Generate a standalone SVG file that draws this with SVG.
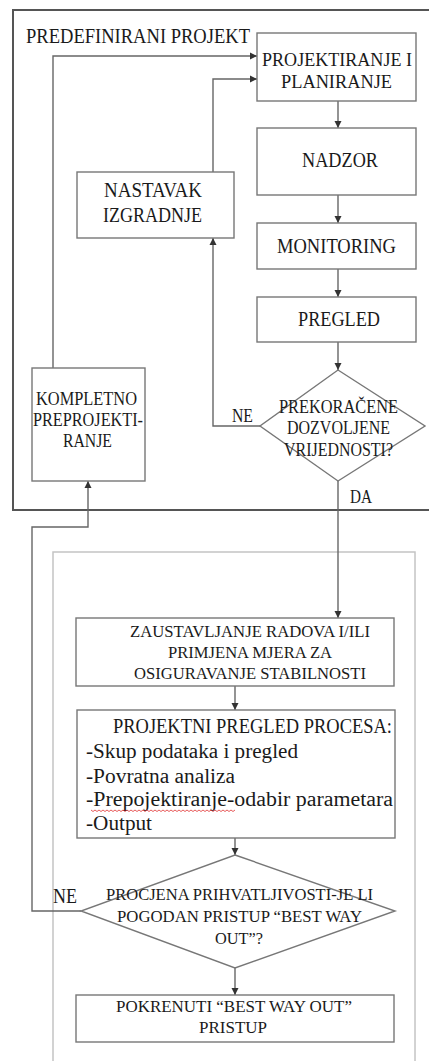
<svg xmlns="http://www.w3.org/2000/svg" width="429" height="1061" viewBox="0 0 429 1061">
<style>
text{font-family:"Liberation Serif","DejaVu Serif",serif;fill:#1a1a1a}
.box{fill:#fff;stroke:#777;stroke-width:1.4}
.a{font-size:21px}
.a2{font-size:19px}
.b{font-size:18px}
.d{font-size:17px}
.e{font-size:20px}
.con{fill:none;stroke:#666;stroke-width:1.4}
</style>
<defs>
<marker id="ar" markerUnits="userSpaceOnUse" markerWidth="8" markerHeight="8" refX="7" refY="4" orient="auto">
<path d="M0,0.5 L7,4 L0,7.5 z" fill="#333"/>
</marker>
</defs>
<rect width="429" height="1061" fill="#fff"/>
<rect id="frame1" x="13" y="10" width="440" height="500" fill="none" stroke="#555" stroke-width="2"/>
<rect id="frame2" x="53" y="552" width="362" height="530" fill="none" stroke="#c4c4c4" stroke-width="1.5"/>
<text id="label-predef" x="26" y="43" class="e" textLength="224" lengthAdjust="spacingAndGlyphs">PREDEFINIRANI PROJEKT</text>

<g id="connectors">
<path class="con" d="M53,368 V56 H257" marker-end="url(#ar)"/>
<path class="con" d="M213,172 V79 H257" marker-end="url(#ar)"/>
<path class="con" d="M338,101 V128" marker-end="url(#ar)"/>
<path class="con" d="M338,195 V223" marker-end="url(#ar)"/>
<path class="con" d="M338,269 V297" marker-end="url(#ar)"/>
<path class="con" d="M338,342 V370" marker-end="url(#ar)"/>
<path class="con" d="M260,426 H213 V238" marker-end="url(#ar)"/>
<path class="con" d="M338,481 V618" marker-end="url(#ar)"/>
<path class="con" d="M235,686 V710" marker-end="url(#ar)"/>
<path class="con" d="M235,838 V855" marker-end="url(#ar)"/>
<path class="con" d="M81,911 H32 V527 H88 V481" marker-end="url(#ar)"/>
<path class="con" d="M235,968 V995" marker-end="url(#ar)"/>
<text x="232" y="422" class="b" textLength="21" lengthAdjust="spacingAndGlyphs">NE</text>
<text x="350" y="503" class="b" textLength="22" lengthAdjust="spacingAndGlyphs">DA</text>
<text x="53" y="903" class="e" textLength="24" lengthAdjust="spacingAndGlyphs">NE</text>
</g>

<g id="n-projektiranje">
<rect class="box" x="257" y="33" width="159" height="68"/>
<text x="262" y="66" class="a2" textLength="150" lengthAdjust="spacingAndGlyphs">PROJEKTIRANJE I</text>
<text x="281" y="88" class="a2" textLength="111" lengthAdjust="spacingAndGlyphs">PLANIRANJE</text>
</g>
<g id="n-nadzor">
<rect class="box" x="257" y="128" width="159" height="67"/>
<text x="302" y="167" class="a" textLength="76" lengthAdjust="spacingAndGlyphs">NADZOR</text>
</g>
<g id="n-monitoring">
<rect class="box" x="257" y="223" width="159" height="46"/>
<text x="277" y="253" class="a" textLength="119" lengthAdjust="spacingAndGlyphs">MONITORING</text>
</g>
<g id="n-pregled">
<rect class="box" x="257" y="297" width="159" height="45"/>
<text x="298" y="326" class="a" textLength="82" lengthAdjust="spacingAndGlyphs">PREGLED</text>
</g>
<g id="n-nastavak">
<rect class="box" x="77" y="172" width="157" height="66"/>
<text x="104" y="197" class="a" textLength="98" lengthAdjust="spacingAndGlyphs">NASTAVAK</text>
<text x="103" y="222" class="a" textLength="99" lengthAdjust="spacingAndGlyphs">IZGRADNJE</text>
</g>
<g id="n-prekoracene">
<polygon class="box" points="338,370 425,426 338,481 260,426"/>
<text x="279" y="413" class="b" textLength="119" lengthAdjust="spacingAndGlyphs">PREKORAČENE</text>
<text x="287" y="434" class="b" textLength="103" lengthAdjust="spacingAndGlyphs">DOZVOLJENE</text>
<text x="284" y="456" class="b" textLength="109" lengthAdjust="spacingAndGlyphs">VRIJEDNOSTI?</text>
</g>
<g id="n-kompletno">
<rect class="box" x="32" y="368" width="113" height="113"/>
<text x="36" y="405" class="b" textLength="101" lengthAdjust="spacingAndGlyphs">KOMPLETNO</text>
<text x="33" y="426" class="b" textLength="110" lengthAdjust="spacingAndGlyphs">PREPROJEKTI-</text>
<text x="63" y="447" class="b" textLength="49" lengthAdjust="spacingAndGlyphs">RANJE</text>
</g>
<g id="n-zaustavljanje">
<rect class="box" x="76" y="618" width="318" height="68"/>
<text x="130" y="637" class="d" textLength="240" lengthAdjust="spacingAndGlyphs">ZAUSTAVLJANJE RADOVA I/ILI</text>
<text x="168" y="658" class="d" textLength="164" lengthAdjust="spacingAndGlyphs">PRIMJENA MJERA ZA</text>
<text x="134" y="679" class="d" textLength="232" lengthAdjust="spacingAndGlyphs">OSIGURAVANJE STABILNOSTI</text>
</g>
<g id="n-projektni">
<rect class="box" x="77" y="710" width="318" height="128"/>
<text x="113" y="733" class="e" textLength="279" lengthAdjust="spacingAndGlyphs">PROJEKTNI PREGLED PROCESA:</text>
<text x="86" y="758" class="e" textLength="212" lengthAdjust="spacingAndGlyphs">-Skup podataka i pregled</text>
<text x="86" y="783" class="e" textLength="149" lengthAdjust="spacingAndGlyphs">-Povratna analiza</text>
<text x="86" y="806" class="e" textLength="307" lengthAdjust="spacingAndGlyphs">-Prepojektiranje-odabir parametara</text>
<text x="86" y="830" class="e" textLength="66" lengthAdjust="spacingAndGlyphs">-Output</text>
<path d="M91,810 l2,1.5 l2,-1.5 l2,1.5 l2,-1.5 l2,1.5 l2,-1.5 l2,1.5 l2,-1.5 l2,1.5 l2,-1.5 l2,1.5 l2,-1.5 l2,1.5 l2,-1.5 l2,1.5 l2,-1.5 l2,1.5 l2,-1.5 l2,1.5 l2,-1.5 l2,1.5 l2,-1.5 l2,1.5 l2,-1.5 l2,1.5 l2,-1.5 l2,1.5 l2,-1.5 l2,1.5 l2,-1.5 l2,1.5 l2,-1.5 l2,1.5 l2,-1.5 l2,1.5 l2,-1.5 l2,1.5 l2,-1.5 l2,1.5 l2,-1.5 l2,1.5 l2,-1.5 l2,1.5 l2,-1.5 l2,1.5 l2,-1.5 l2,1.5 l2,-1.5 l2,1.5 l2,-1.5 l2,1.5 l2,-1.5 l2,1.5 l2,-1.5 l2,1.5 l2,-1.5 l2,1.5 l2,-1.5 l2,1.5 l2,-1.5 l2,1.5 l2,-1.5 l2,1.5 l2,-1.5 l2,1.5 l2,-1.5 l2,1.5 l2,-1.5 l2,1.5 l2,-1.5 l2,1.5 l2,-1.5" fill="none" stroke="#e03030" stroke-width="0.8"/>
</g>
<g id="n-procjena">
<polygon class="box" points="235,855 395,911 235,968 81,911"/>
<text x="106" y="900" class="d" textLength="267" lengthAdjust="spacingAndGlyphs">PROCJENA PRIHVATLJIVOSTI-JE LI</text>
<text x="117" y="922" class="d" textLength="245" lengthAdjust="spacingAndGlyphs">POGODAN PRISTUP “BEST WAY</text>
<text x="215" y="944" class="d" textLength="48" lengthAdjust="spacingAndGlyphs">OUT”?</text>
</g>
<g id="n-pokrenuti">
<rect class="box" x="76" y="995" width="318" height="47"/>
<text x="116" y="1012" class="d" textLength="236" lengthAdjust="spacingAndGlyphs">POKRENUTI “BEST WAY OUT”</text>
<text x="199" y="1033" class="d" textLength="68" lengthAdjust="spacingAndGlyphs">PRISTUP</text>
</g>
</svg>
